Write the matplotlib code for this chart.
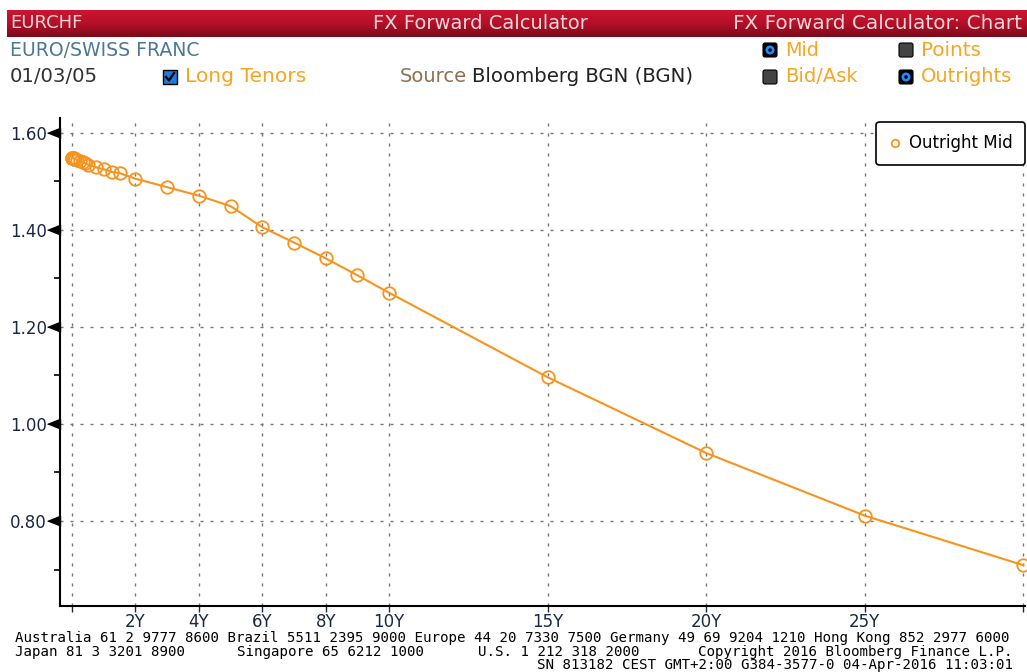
import numpy as np
import matplotlib
matplotlib.use("Agg")
import matplotlib.pyplot as plt
import matplotlib.transforms as mtransforms
from matplotlib.patches import Rectangle, FancyBboxPatch, Circle
from matplotlib.lines import Line2D

# Datos: curva de forwards EURCHF (outright mid)
tenor_labels = ['ON', 'TN', 'SN', '1W', '2W', '3W', '1M', '2M', '3M', '4M', '5M', '6M',
                '9M', '1Y', '15M', '18M', '2Y', '3Y', '4Y', '5Y', '6Y', '7Y', '8Y', '9Y',
                '10Y', '15Y', '20Y', '25Y', '30Y']
tenor_years = [0.003, 0.005, 0.008, 0.019, 0.038, 0.058, 0.083, 0.167, 0.25, 0.333, 0.417, 0.5,
               0.75, 1.0, 1.25, 1.5, 2, 3, 4, 5, 6, 7, 8, 9,
               10, 15, 20, 25, 30]
outright_mid = [1.5485, 1.5484, 1.5483, 1.5479, 1.5473, 1.5467, 1.5460, 1.5436, 1.5412, 1.5388, 1.5365, 1.5342,
                1.5285, 1.5245, 1.5190, 1.5165, 1.5050, 1.4875, 1.4700, 1.4485, 1.4050, 1.3735, 1.3410, 1.3060,
                1.2700, 1.0960, 0.9400, 0.8110, 0.7090]

x_ticks = [0, 2, 4, 6, 8, 10, 15, 20, 25, 30]
x_tick_labels = ['', '2Y', '4Y', '6Y', '8Y', '10Y', '15Y', '20Y', '25Y', '']
y_ticks = [0.80, 1.00, 1.20, 1.40, 1.60]
y_minor = [0.70, 0.90, 1.10, 1.30, 1.50]

footer_1 = "Australia 61 2 9777 8600 Brazil 5511 2395 9000 Europe 44 20 7330 7500 Germany 49 69 9204 1210 Hong Kong 852 2977 6000"
footer_2 = ["Japan 81 3 3201 8900", "Singapore 65 6212 1000", "U.S. 1 212 318 2000",
            "Copyright 2016 Bloomberg Finance L.P."]
footer_3 = "SN 813182 CEST GMT+2:00 G384-3577-0 04-Apr-2016 11:03:01"

ORANGE = '#f7941d'
NAVY = '#1b2845'
LABEL_ORANGE = '#f5a623'

W, H = 1027, 672
fig = plt.figure(figsize=(W / 100, H / 100), dpi=100)
fig.patch.set_facecolor('white')

# capa de fondo en pixeles para cabecera y pie
bg = fig.add_axes([0, 0, 1, 1])
bg.set_xlim(0, W)
bg.set_ylim(H, 0)
bg.axis('off')

# banda roja con degradado
grad = np.linspace(0, 1, 64).reshape(-1, 1)
cmap = matplotlib.colors.LinearSegmentedColormap.from_list('hdr', ['#cc1532', '#b51029', '#7a0a1a'])
bg.imshow(grad, cmap=cmap, aspect='auto', extent=(7, W, 37, 10), zorder=1)
hdr_col = '#ecd6d9'
bg.text(10, 23.5, 'EURCHF', color=hdr_col, fontsize=13, va='center', ha='left', zorder=2)
bg.text(373, 23.5, 'FX Forward Calculator', color=hdr_col, fontsize=14, va='center', ha='left', zorder=2)
bg.text(1022, 23.5, 'FX Forward Calculator: Chart', color=hdr_col, fontsize=14.4, va='center', ha='right', zorder=2)

# segunda y tercera fila
bg.text(10, 50, 'EURO/SWISS FRANC', color='#4d7894', fontsize=13.6, va='center', ha='left')
bg.text(10, 77, '01/03/05', color='#333333', fontsize=14.2, va='center', ha='left')
bg.add_patch(Rectangle((163, 70), 14, 14, facecolor='#1e7be0', edgecolor='black', lw=1))
bg.add_line(Line2D([166, 169, 174], [77, 80.5, 73], color='black', lw=1.6))
bg.text(185, 77, 'Long Tenors', color=LABEL_ORANGE, fontsize=14.6, va='center', ha='left')
bg.text(400, 77, 'Source', color='#8b7150', fontsize=14, va='center', ha='left')
bg.text(472, 77, 'Bloomberg BGN (BGN)', color='#222222', fontsize=14.2, va='center', ha='left')


def radio(x, y, selected):
    bg.add_patch(FancyBboxPatch((x - 6, y - 6), 12, 12, boxstyle='round,pad=1,rounding_size=2',
                                facecolor='black' if selected else '#444444', edgecolor='black', lw=0.8))
    if selected:
        bg.add_patch(Circle((x, y), 4.5, facecolor='#1e8cff', edgecolor='none'))
        bg.add_patch(Circle((x, y), 1.8, facecolor='black', edgecolor='none'))


radio(770, 50, True)
radio(906, 50, False)
radio(770, 77, False)
radio(906, 77, True)
bg.text(785, 50, 'Mid', color=LABEL_ORANGE, fontsize=13.8, va='center', ha='left')
bg.text(921, 50, 'Points', color=LABEL_ORANGE, fontsize=14.4, va='center', ha='left')
bg.text(785, 77, 'Bid/Ask', color=LABEL_ORANGE, fontsize=14, va='center', ha='left')
bg.text(921, 77, 'Outrights', color=LABEL_ORANGE, fontsize=14, va='center', ha='left')

# pie de pagina
mono = dict(family='DejaVu Sans Mono', fontsize=10.2, color='black', va='center')
bg.text(15, 638, footer_1, ha='left', **mono)
bg.text(15, 652, footer_2[0], ha='left', **mono)
bg.text(237, 652, footer_2[1], ha='left', **mono)
bg.text(478, 652, footer_2[2], ha='left', **mono)
bg.text(1013, 652, footer_2[3], ha='right', **mono)
bg.text(1013, 665, footer_3, ha='right', **mono)

# grafico principal
ax = fig.add_axes([60 / W, 66 / H, 965 / W, 488 / H])
ax.set_facecolor('none')
ax.plot(tenor_years, outright_mid, color=ORANGE, lw=1.5, marker='o', markersize=9,
        markerfacecolor='none', markeredgecolor=ORANGE, markeredgewidth=1.3,
        label='Outright Mid', zorder=3, clip_on=False)

ax.set_xlim(-0.38, 30.05)
ax.set_ylim(0.625, 1.630)
ax.set_xticks(x_ticks)
ax.set_xticklabels(x_tick_labels)
ax.set_yticks(y_ticks)
ax.set_yticklabels(['%.2f' % v for v in y_ticks])
ax.set_yticks(y_minor, minor=True)

ax.grid(True, which='major', color='#777777', lw=1.0, linestyle=(0, (2.2, 5)))
for s in ['top', 'right']:
    ax.spines[s].set_visible(False)
for s in ['left', 'bottom']:
    ax.spines[s].set_linewidth(1.5)
    ax.spines[s].set_color('black')

ax.tick_params(axis='x', which='major', length=4, width=1, color=NAVY, pad=1,
               labelsize=12, labelcolor=NAVY)
ax.tick_params(axis='y', which='major', length=0, pad=9.5, labelsize=12, labelcolor=NAVY)
ax.tick_params(axis='y', which='minor', length=4, width=1.2, color='black')

# flechas negras en los ticks principales del eje y (triangulo con base en el eje)
arrow = [(0, -0.4), (0, 0.4), (-1, 0)]
trans = mtransforms.blended_transform_factory(ax.transAxes, ax.transData)
ax.plot(np.zeros(len(y_ticks)), y_ticks, linestyle='none', marker=arrow, markersize=18.5,
        color='black', transform=trans, clip_on=False, zorder=5)

leg = ax.legend(loc='upper right', bbox_to_anchor=(1.0, 0.992), borderaxespad=0,
                fontsize=12, frameon=True, fancybox=True, handlelength=0.7,
                handletextpad=0.5, borderpad=0.75, markerscale=0.6)
leg.get_frame().set_edgecolor('black')
leg.get_frame().set_linewidth(1.2)
leg.get_frame().set_alpha(1)
for h in leg.legend_handles:
    h.set_linestyle('none')

fig.savefig('out.png', dpi=100)
